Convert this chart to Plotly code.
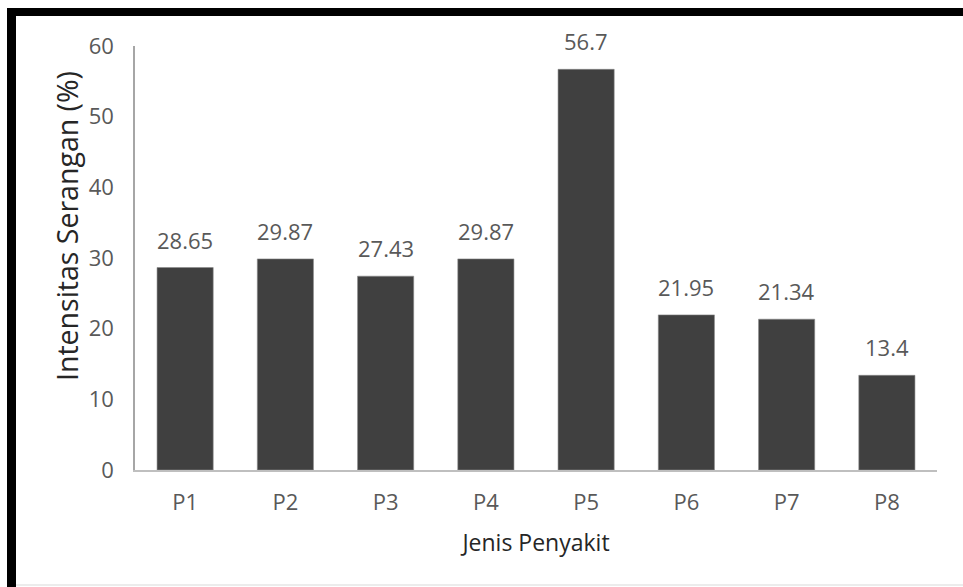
import plotly.graph_objects as go

categories = ["P1", "P2", "P3", "P4", "P5", "P6", "P7", "P8"]
values = [28.65, 29.87, 27.43, 29.87, 56.7, 21.95, 21.34, 13.4]
value_labels = ["28.65", "29.87", "27.43", "29.87", "56.7", "21.95", "21.34", "13.4"]
y_ticks = [0, 10, 20, 30, 40, 50, 60]

W, H = 963, 587
L, R, T, B = 135, 26, 46, 117
pw, ph = W - L - R, H - T - B

def px(x):
    return (x - L) / pw

def py(y):
    return 1 - (y - T) / ph

font = "Open Sans"
gray = "#595959"
fs = 22

fig = go.Figure(go.Bar(
    x=categories, y=values,
    marker=dict(color="#404040", line=dict(color="#8a8a8a", width=0.6)),
    width=0.56,
))

for c, v, t in zip(categories, values, value_labels):
    fig.add_annotation(x=c, y=v, text=t, showarrow=False, yanchor="bottom",
                       yshift=11, font=dict(family=font, size=fs, color=gray))

# y-axis title (placed as annotation to match its off-centre position)
fig.add_annotation(text="Intensitas Serangan (%)", textangle=-90, showarrow=False,
                   xref="paper", yref="paper", x=px(67), y=py(226),
                   xanchor="center", yanchor="middle",
                   font=dict(family=font, size=28.5, color="#262626"))

fig.update_layout(
    width=W, height=H, margin=dict(l=L, r=R, t=T, b=B),
    paper_bgcolor="white", plot_bgcolor="white", showlegend=False,
    font=dict(family=font, size=fs, color=gray),
    xaxis=dict(showline=True, linecolor="#bfbfbf", linewidth=2, ticks="",
               ticklabelstandoff=12,
               tickfont=dict(family=font, size=fs, color=gray),
               title=dict(text="Jenis Penyakit", font=dict(family=font, size=23, color="#262626"), standoff=19)),
    yaxis=dict(range=[0, 60], tickvals=y_ticks, showgrid=False, zeroline=False,
               showline=True, linecolor="#a6a6a6", linewidth=1.5, ticks="",
               ticklabelstandoff=15,
               tickfont=dict(family=font, size=fs, color=gray)),
)

# black frame (left and top) and thin gray bottom line
fig.add_shape(type="rect", xref="paper", yref="paper",
              x0=px(7), x1=px(16), y0=py(H), y1=py(8),
              fillcolor="black", line=dict(width=0), layer="above")
fig.add_shape(type="rect", xref="paper", yref="paper",
              x0=px(7), x1=px(W), y0=py(16), y1=py(8),
              fillcolor="black", line=dict(width=0), layer="above")
fig.add_shape(type="line", xref="paper", yref="paper",
              x0=px(16), x1=px(W), y0=py(585), y1=py(585),
              line=dict(color="#d9d9d9", width=1))

fig.write_html("out.html")
